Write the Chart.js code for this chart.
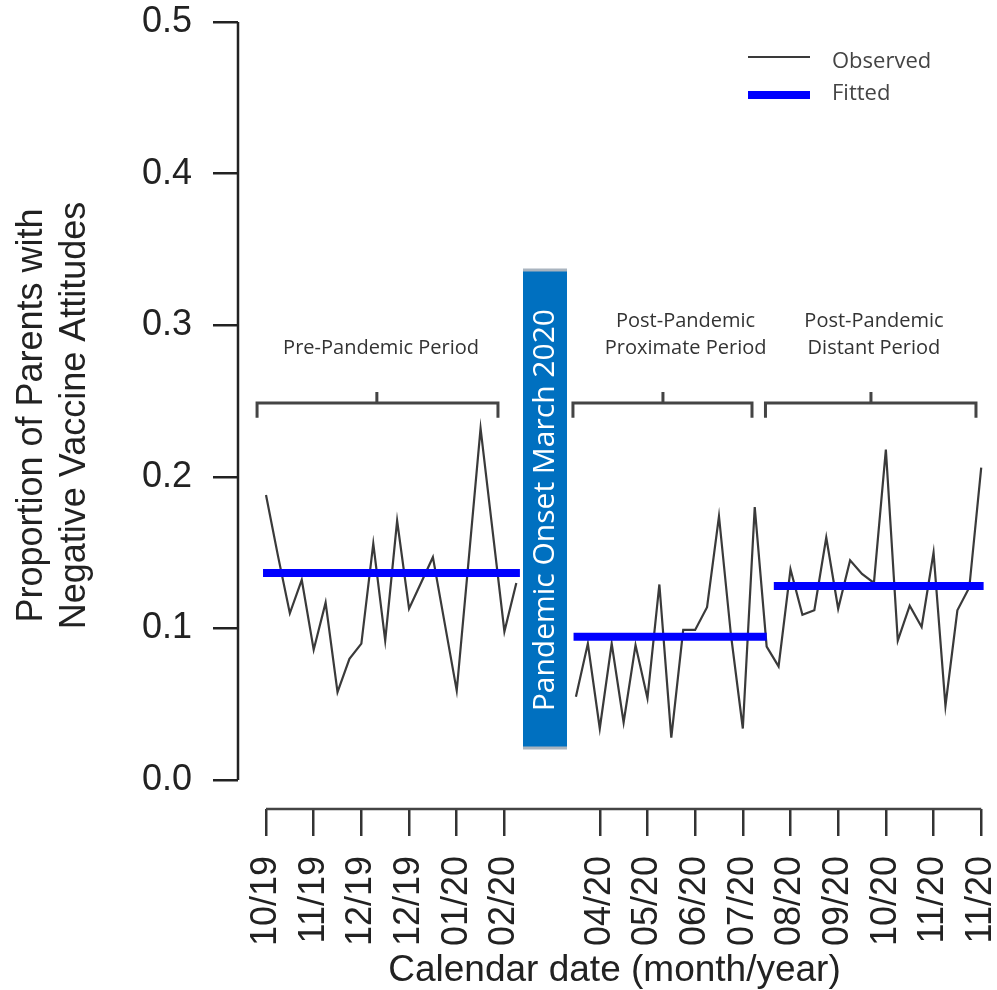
<!DOCTYPE html>
<html lang="en">
<head>
<meta charset="UTF-8">
<title>Negative Vaccine Attitudes</title>
<script src="https://cdn.jsdelivr.net/npm/chart.js@4.4.8/dist/chart.umd.min.js"></script>
<style>
    html, body { margin: 0; padding: 0; background: #fff; }
</style>
</head>
<body>
<canvas id="chart" width="997" height="990"></canvas>

<script>
    // x is a week index, 0 = first week of 10/19, a tick every 4 weeks
    const tickLabels = ['10/19', '11/19', '12/19', '12/19', '01/20', '02/20', '',
        '04/20', '05/20', '06/20', '07/20', '08/20', '09/20', '10/20', '11/20', '11/20'];
    const yTicks = [0, 0.1, 0.2, 0.3, 0.4, 0.5];

    const preStart = 0;
    const preValues = [0.188, 0.148, 0.110, 0.132, 0.086, 0.117, 0.058, 0.080, 0.090, 0.156, 0.092,
        0.171, 0.113, 0.130, 0.147, 0.103, 0.059, 0.145, 0.232, 0.165, 0.098, 0.130];
    const postStart = 26;
    const postValues = [0.055, 0.090, 0.034, 0.090, 0.038, 0.089, 0.054, 0.129, 0.028, 0.099, 0.099,
        0.114, 0.174, 0.096, 0.034, 0.180, 0.088, 0.075, 0.139, 0.109, 0.112, 0.160, 0.113, 0.145,
        0.136, 0.130, 0.218, 0.092, 0.115, 0.101, 0.150, 0.049, 0.112, 0.127, 0.206];

    const fittedLevels = [0.1365, 0.0945, 0.128];
    const fittedFrom = [-0.25, 25.8, 42.6];
    const fittedTo = [21.3, 42.0, 60.2];

    const periodNames = [['Pre-Pandemic Period'], ['Post-Pandemic', 'Proximate Period'], ['Post-Pandemic', 'Distant Period']];
    const onsetLabel = 'Pandemic Onset March 2020';

    const observed = preValues.map((v, i) => ({x: preStart + i, y: v}));
    observed.push({x: preStart + preValues.length, y: null});
    postValues.forEach((v, i) => observed.push({x: postStart + i, y: v}));

    const fitted = [];
    fittedLevels.forEach((lv, k) => {
        fitted.push({x: fittedFrom[k], y: lv}, {x: fittedTo[k], y: lv});
        if (k < fittedLevels.length - 1) fitted.push({x: (fittedTo[k] + fittedFrom[k + 1]) / 2, y: null});
    });

    // brackets and labels, in week index / y value units
    const brackets = [
        {from: -0.75, to: 19.46, mid: 9.3, text: 9.65},
        {from: 25.75, to: 40.77, mid: 33.3, text: 35.2},
        {from: 41.9, to: 59.56, mid: 50.75, text: 51.0}
    ];

    const decor = {
        id: 'decor',
        afterDraw(chart) {
            const {ctx, chartArea, scales: {x, y}} = chart;
            ctx.save();

            // axes, R style
            ctx.strokeStyle = '#222';
            ctx.lineWidth = 2.5;
            ctx.beginPath();
            ctx.moveTo(chartArea.left, y.getPixelForValue(0));
            ctx.lineTo(chartArea.left, y.getPixelForValue(0.5));
            ctx.stroke();
            ctx.strokeStyle = '#444';
            ctx.beginPath();
            ctx.moveTo(x.getPixelForValue(0), chartArea.bottom);
            ctx.lineTo(x.getPixelForValue(60), chartArea.bottom);
            ctx.stroke();

            // onset box
            const bx0 = x.getPixelForValue(21.56), bx1 = x.getPixelForValue(25.25);
            const by0 = y.getPixelForValue(0.3364), by1 = y.getPixelForValue(0.0211);
            ctx.fillStyle = '#0070c0';
            ctx.fillRect(bx0, by0, bx1 - bx0, by1 - by0);
            ctx.strokeStyle = '#a9b4bf';
            ctx.lineWidth = 3;
            ctx.beginPath();
            ctx.moveTo(bx0, by0); ctx.lineTo(bx1, by0);
            ctx.moveTo(bx0, by1); ctx.lineTo(bx1, by1);
            ctx.stroke();
            ctx.save();
            ctx.translate((bx0 + bx1) / 2, y.getPixelForValue(0.178));
            ctx.rotate(-Math.PI / 2);
            ctx.fillStyle = '#fff';
            ctx.font = '30px "Open Sans"';
            ctx.textAlign = 'center';
            ctx.textBaseline = 'middle';
            ctx.fillText(onsetLabel, 0, 0);
            ctx.restore();

            // period brackets
            ctx.strokeStyle = '#444';
            ctx.lineWidth = 3;
            ctx.fillStyle = '#333';
            ctx.font = '20px "Open Sans"';
            ctx.textAlign = 'center';
            ctx.textBaseline = 'middle';
            const yb = y.getPixelForValue(0.2487), ye = y.getPixelForValue(0.239), yc = y.getPixelForValue(0.256);
            brackets.forEach((b, k) => {
                const x0 = x.getPixelForValue(b.from), x1 = x.getPixelForValue(b.to), xm = x.getPixelForValue(b.mid);
                ctx.beginPath();
                ctx.moveTo(x0, ye); ctx.lineTo(x0, yb); ctx.lineTo(x1, yb); ctx.lineTo(x1, ye);
                ctx.moveTo(xm, yb); ctx.lineTo(xm, yc);
                ctx.stroke();
                const lines = periodNames[k];
                const base = y.getPixelForValue(0.285);
                lines.forEach((t, i) => {
                    ctx.fillText(t, x.getPixelForValue(b.text), base - (lines.length - 1 - i) * 27);
                });
            });

            // legend
            const sets = chart.data.datasets;
            const legendY = [57, 95];
            ctx.font = '22px "Open Sans"';
            ctx.textAlign = 'left';
            ctx.fillStyle = '#444';
            sets.slice().reverse().forEach((ds, i) => {
                ctx.strokeStyle = ds.borderColor;
                ctx.lineWidth = ds.borderWidth;
                ctx.beginPath();
                ctx.moveTo(748, legendY[i]);
                ctx.lineTo(810, legendY[i]);
                ctx.stroke();
                ctx.fillText(ds.label, 832, legendY[i] + (i === 0 ? 5 : -1));
            });
            ctx.restore();
        }
    };

    const chart = new Chart(document.getElementById('chart'), {
        type: 'line',
        data: {
            datasets: [{
                label: 'Fitted',
                data: fitted,
                borderColor: '#0000ff',
                borderWidth: 8,
                pointRadius: 0,
                spanGaps: false,
                order: 0
            }, {
                label: 'Observed',
                data: observed,
                borderColor: '#3a3a3a',
                borderWidth: 2.2,
                pointRadius: 0,
                tension: 0,
                spanGaps: false,
                order: 1
            }]
        },
        options: {
            responsive: false,
            animation: false,
            devicePixelRatio: 1,
            layout: {padding: {left: 0, right: 6, top: 22, bottom: 0}},
            plugins: {legend: {display: false}, tooltip: {enabled: false}},
            font: {family: '"Liberation Sans", Arial, sans-serif'},
            scales: {
                x: {
                    type: 'linear',
                    min: -2.349,
                    max: 60.82,
                    afterBuildTicks: s => {
                        s.ticks = tickLabels.map((t, k) => ({value: k * 4, t})).filter(d => d.t !== '').map(d => ({value: d.value}));
                    },
                    afterFit: s => { s.height = 181; s.paddingLeft = 0; s.paddingRight = 0; },
                    grid: {drawOnChartArea: false, tickLength: 27, lineWidth: 2.5, color: '#333'},
                    border: {display: false},
                    ticks: {
                        autoSkip: false,
                        maxRotation: 90,
                        minRotation: 90,
                        padding: 20,
                        color: '#222',
                        font: {family: '"Liberation Sans", Arial, sans-serif', size: 36},
                        callback: v => tickLabels[Math.round(v / 4)]
                    },
                    title: {
                        display: true,
                        text: 'Calendar date (month/year)',
                        color: '#222',
                        font: {family: '"Liberation Sans", Arial, sans-serif', size: 37, lineHeight: 1.0},
                        padding: {top: 0, bottom: 1}
                    }
                },
                y: {
                    min: -0.0191,
                    max: 0.5,
                    afterBuildTicks: s => { s.ticks = yTicks.map(v => ({value: v})); },
                    afterFit: s => { s.width = 238; s.paddingTop = 0; s.paddingBottom = 0; },
                    grid: {drawOnChartArea: false, tickLength: 25, lineWidth: 2.5, color: '#222'},
                    border: {display: false},
                    ticks: {
                        padding: 21,
                        color: '#222',
                        font: {family: '"Liberation Sans", Arial, sans-serif', size: 36},
                        callback: v => v.toFixed(1)
                    },
                    title: {
                        display: true,
                        text: ['Proportion of Parents with', 'Negative Vaccine Attitudes'],
                        color: '#222',
                        font: {family: '"Liberation Sans", Arial, sans-serif', size: 36, lineHeight: 1.2},
                        padding: {top: 10, bottom: 0}
                    }
                }
            }
        },
        plugins: [decor]
    });
</script>
</body>
</html>
